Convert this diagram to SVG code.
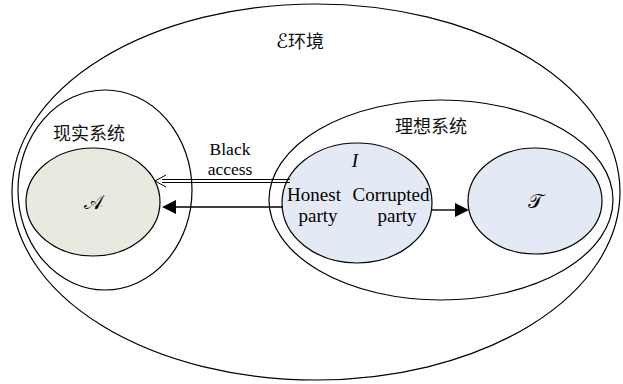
<svg xmlns="http://www.w3.org/2000/svg" width="623" height="384" viewBox="0 0 623 384">
<defs>
<style>
.ln{fill:none;stroke:#000;stroke-width:1.2}
.t{font-family:"Liberation Serif","Noto Sans CJK SC",serif;font-size:19px;fill:#000;text-anchor:middle}
.cjk{font-family:"Noto Sans CJK SC","Liberation Serif",sans-serif;font-size:18px;fill:#111;text-anchor:middle}
.m{font-family:"DejaVu Serif","DejaVu Sans","Liberation Serif",serif;font-size:20px;fill:#000;text-anchor:middle}
</style>
</defs>
<rect width="623" height="384" fill="#fff"/>
<g id="env">
<ellipse class="ln" cx="316" cy="192" rx="304" ry="188"/>
<text x="300" y="48" class="cjk"><tspan class="m" style="font-style:italic">ℰ</tspan>环境</text>
</g>
<g id="real">
<ellipse class="ln" cx="105" cy="190" rx="87" ry="100"/>
<text x="89" y="140" class="cjk">现实系统</text>
</g>
<g id="ideal">
<ellipse class="ln" cx="441" cy="200" rx="172" ry="100"/>
<text x="431" y="133" class="cjk">理想系统</text>
</g>
<g id="A">
<ellipse class="ln" cx="93" cy="202" rx="67" ry="54" style="fill:#e9eadf"/>
<text x="93" y="209" class="m">𝒜</text>
</g>
<g id="I">
<ellipse class="ln" cx="357" cy="203" rx="75" ry="60" style="fill:#e4eaf5"/>
<text x="355" y="167" class="t" font-style="italic">I</text>
<text x="314" y="201" class="t">Honest</text>
<text x="318" y="222" class="t">party</text>
<text x="391" y="201" class="t">Corrupted</text>
<text x="397" y="222" class="t">party</text>
</g>
<g id="T">
<ellipse class="ln" cx="535" cy="201" rx="67" ry="53" style="fill:#e4eaf5"/>
<text x="535" y="208" class="m">𝒯</text>
</g>
<g id="connectors">
<text x="230" y="155" class="t" style="font-size:17.5px">Black</text>
<text x="230" y="175" class="t" style="font-size:17.5px">access</text>
<path d="M290 179.5H162 M290 182.5H162" class="ln" stroke-width="1"/>
<path d="M166 175 L155 181 L166 187" fill="none" stroke="#000" stroke-width="1"/>
<line x1="283" y1="207" x2="174" y2="207" stroke="#000" stroke-width="1.4"/>
<path d="M162 207 L176 200 L176 214 Z" fill="#000"/>
<line x1="432" y1="210" x2="457" y2="210" stroke="#000" stroke-width="1.4"/>
<path d="M469 210 L455 203 L455 217 Z" fill="#000"/>
</g>
</svg>
